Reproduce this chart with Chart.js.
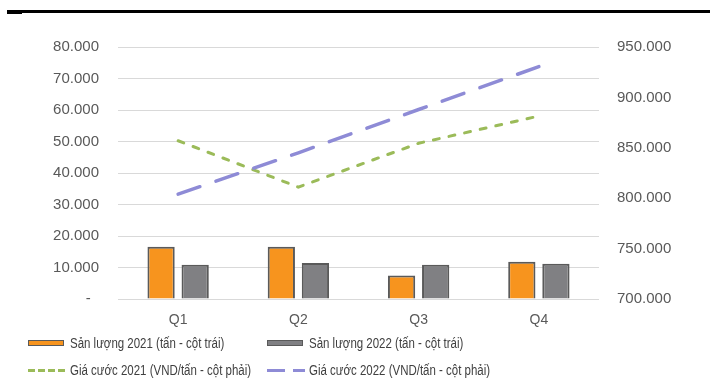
<!DOCTYPE html>
<html>
<head>
<meta charset="utf-8">
<script src="https://cdn.jsdelivr.net/npm/chart.js@4.4.0/dist/chart.umd.min.js"></script>
<style>
  html, body { margin: 0; padding: 0; background: #fff; }
  #wrap { position: relative; width: 712px; height: 387px; }
  #legend { position: absolute; left: 0; top: 0; width: 712px; height: 387px; pointer-events: none;
    font-family: "Liberation Sans", Arial, sans-serif;
    font-size: 14px; color: #404040; }
  .item { position: absolute; white-space: nowrap; line-height: 16px;
    transform: scaleX(0.82); transform-origin: 0 50%; }
  .sym { position: absolute; }
</style>
</head>
<body>
<div id="wrap">
  <canvas id="chart" width="712" height="387"></canvas>
  <div id="legend"></div>
</div>
<script>
// Dữ liệu biểu đồ
const quarters = ['Q1', 'Q2', 'Q3', 'Q4']
const sanLuong2021 = [16600, 16600, 7500, 11800]   // tấn - cột trái
const sanLuong2022 = [10900, 11400, 10900, 11200]  // tấn - cột trái
const giaCuoc2021 = [857000, 811000, 854500, 881500] // VND/tấn - cột phải
const giaCuoc2022 = [804000, 845000, 888000, 930500] // VND/tấn - cột phải

const seriesNames = [
  'Sản lượng 2021 (tấn - cột trái)',
  'Sản lượng 2022 (tấn - cột trái)',
  'Giá cước 2021 (VND/tấn - cột phải)',
  'Giá cước 2022 (VND/tấn - cột phải)'
]

const ORANGE = '#F7941E'
const GRAY = '#808083'
const GREEN = '#9BBB59'
const PURPLE = '#8E8BD6'
const EDGE = '#5A5A5A'
const TICK = '#595959'

// định dạng số kiểu 80.000
function fmt(v) {
  return String(Math.round(v)).replace(/\B(?=(\d{3})+(?!\d))/g, '.')
}

// đường kẻ đen phía trên
const topRule = {
  id: 'topRule',
  beforeDraw(chart) {
    const ctx = chart.ctx
    ctx.save()
    ctx.fillStyle = '#fff'
    ctx.fillRect(0, 0, chart.width, chart.height)
    ctx.fillStyle = '#000'
    ctx.fillRect(7, 10, 703, 3)
    ctx.fillRect(7, 10, 15, 4)
    ctx.restore()
  }
}

const tickFont = { family: '"Liberation Sans", Arial, sans-serif', size: 15 }

new Chart(document.getElementById('chart'), {
  data: {
    labels: quarters,
    datasets: [
      {
        type: 'bar', label: seriesNames[0], data: sanLuong2021, yAxisID: 'y',
        backgroundColor: ORANGE, borderColor: EDGE, borderWidth: 2,
        categoryPercentage: 0.567, barPercentage: 0.8, order: 2
      },
      {
        type: 'bar', label: seriesNames[1], data: sanLuong2022, yAxisID: 'y',
        backgroundColor: GRAY, borderColor: EDGE, borderWidth: 2,
        categoryPercentage: 0.567, barPercentage: 0.8, order: 3
      },
      {
        type: 'line', label: seriesNames[2], data: giaCuoc2021, yAxisID: 'y1',
        borderColor: GREEN, borderWidth: 3, borderDash: [6, 10], borderCapStyle: 'round',
        pointRadius: 0, tension: 0, fill: false, order: 1
      },
      {
        type: 'line', label: seriesNames[3], data: giaCuoc2022, yAxisID: 'y1',
        borderColor: PURPLE, borderWidth: 3.5, borderDash: [23, 17], borderCapStyle: 'round',
        pointRadius: 0, tension: 0, fill: false, order: 0
      }
    ]
  },
  options: {
    responsive: false,
    animation: false,
    layout: { padding: { top: 47, bottom: 58, left: 0, right: 0 } },
    plugins: { legend: { display: false }, tooltip: { enabled: false } },
    scales: {
      x: {
        grid: { display: false },
        border: { display: false },
        ticks: { color: TICK, font: { family: tickFont.family, size: 14 }, padding: 5, maxRotation: 0 },
        afterFit(s) { s.height = 30 }
      },
      y: {
        position: 'left',
        min: 0, max: 80000,
        grid: { color: '#D9D9D9', lineWidth: 1, drawTicks: false },
        border: { display: false },
        ticks: {
          stepSize: 10000, color: TICK, font: tickFont, padding: 19,
          callback: v => v === 0 ? '-  ' : fmt(v)
        },
        afterFit(s) { s.width = 118 }
      },
      y1: {
        position: 'right',
        min: 700000, max: 950000,
        grid: { drawOnChartArea: false, drawTicks: false },
        border: { display: false },
        ticks: {
          stepSize: 50000, color: TICK, font: tickFont, padding: 18,
          callback: v => fmt(v)
        },
        afterFit(s) { s.width = 113 }
      }
    }
  },
  plugins: [topRule]
})

// chú thích dạng lưới 2 cột
const legend = document.getElementById('legend')
const legendRows = [
  { x: 28, y: 343, text: seriesNames[0], sym: 'box', color: ORANGE },
  { x: 267, y: 343, text: seriesNames[1], sym: 'box', color: GRAY },
  { x: 28, y: 370, text: seriesNames[2], sym: 'dash', color: GREEN },
  { x: 267, y: 370, text: seriesNames[3], sym: 'long', color: PURPLE }
]
legendRows.forEach(r => {
  const sym = document.createElement('div')
  sym.className = 'sym'
  if (r.sym === 'box') {
    sym.style.cssText = `left:${r.x}px;top:${r.y - 3}px;width:34px;height:4px;background:${r.color};border:1.5px solid ${EDGE};`
  } else if (r.sym === 'dash') {
    sym.style.cssText = `left:${r.x}px;top:${r.y - 1.5}px;width:37px;height:3px;` +
      `background:repeating-linear-gradient(90deg, ${r.color} 0 7px, transparent 7px 10px);`
  } else {
    sym.style.cssText = `left:${r.x}px;top:${r.y - 1.5}px;width:38px;height:3px;` +
      `background:linear-gradient(90deg, ${r.color} 0 18px, transparent 18px 26px, ${r.color} 26px 38px);`
  }
  legend.appendChild(sym)
  const t = document.createElement('div')
  t.className = 'item'
  t.style.left = (r.x + 42) + 'px'
  t.style.top = (r.y - 8) + 'px'
  t.textContent = r.text
  legend.appendChild(t)
})
</script>
</body>
</html>
